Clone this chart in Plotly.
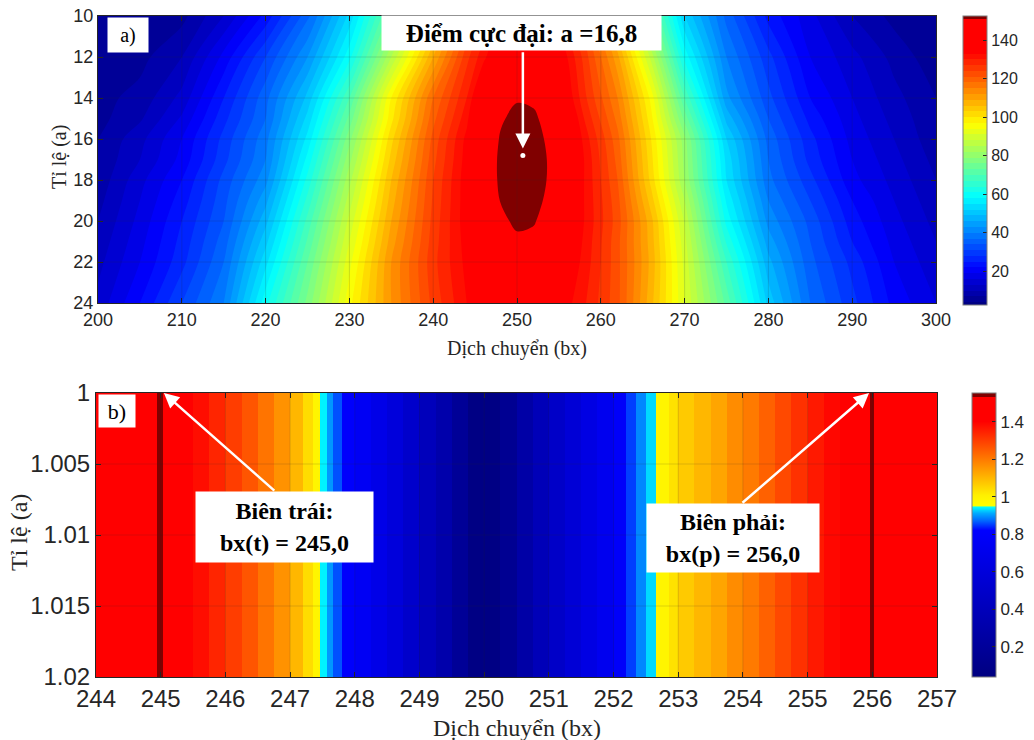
import plotly.graph_objects as go

# ---------------- panel a): magnitude over shift (bx) and scale (a) ----------------
bx_a = [200, 205, 210, 215, 220, 225, 230, 235, 240, 244, 246, 248, 250,
        252, 254, 256, 258, 262, 266, 270, 275, 280, 285, 290, 295, 300]
scale_a = [10, 12, 14, 15, 16, 17, 18, 19, 20, 21, 22, 24]

row_10 = [4, 4.5, 6, 13, 23, 36, 53, 75, 100, 120, 127, 134, 138.5,
          138, 134, 128, 122, 102, 76, 52, 36, 24, 17, 10, 6, 4]
row_12 = [5, 6, 10, 20, 31, 43, 60, 85, 109, 126, 132, 138, 143.5,
          143, 138.5, 133, 126, 110, 87, 60, 40, 29, 19, 14, 9, 5]
row_14 = [6, 8, 14, 25, 36, 50, 70, 97, 118, 130, 139.5, 147, 150.3,
          149.5, 144.5, 135.5, 128, 115, 96, 70, 44, 32, 22, 16, 11, 7]
row_15 = [6, 9.5, 16.5, 27, 37, 53, 74, 99, 120, 132, 142.4, 150, 153.2,
          152.4, 147.4, 138.4, 130, 117, 98, 75, 48, 34, 24, 17, 12, 7.5]
row_16 = [7, 12, 19, 29, 39, 56, 78, 102, 122, 134, 144, 151.6, 154.9,
          154.1, 149, 140, 132, 119, 100, 80, 52, 36, 26, 18, 13, 8]
row_17 = [7.5, 13, 20, 30, 40, 59, 81, 104, 123, 134.5, 145, 152.4, 155.7,
          154.9, 149.9, 141, 133, 120, 101, 81, 54, 37, 27, 19, 14, 9]
row_18 = [8, 15, 22, 32, 42, 62, 84, 106, 124, 135, 145, 152.3, 155.6,
          154.8, 149.8, 141, 133, 121, 102, 82, 55, 38, 29, 20, 15, 10]
row_19 = [9, 16, 23.5, 33, 45, 65, 86.5, 107.5, 124.5, 135, 144, 151.2, 154.5,
          153.7, 148.7, 140, 133, 122, 104.5, 85, 57.5, 40, 31, 22, 16, 11]
row_20 = [10, 17, 25, 34, 48, 68, 89, 109, 125, 135, 142.5, 149.2, 152.5,
          151.7, 146.7, 139, 133, 122.5, 107, 87.5, 60, 42, 33, 23.5, 17, 12]
row_21 = [11, 18, 26, 35.5, 51, 70.5, 91, 110.5, 125.5, 134.5, 140, 146.2, 149.5,
          148.7, 143.7, 137, 132.5, 122, 107.5, 89, 63.5, 44.5, 34, 25, 18, 13]
row_22 = [12, 19, 27, 37, 54, 73, 93, 112, 126, 134, 138, 142, 145.5,
          144.5, 141, 136, 132, 122, 108, 90, 67, 47, 35, 27, 19, 14]
row_24 = [14, 22, 31, 40, 60, 77, 96, 112, 125, 133, 136, 139, 141.5,
          141, 138, 134, 130.5, 122, 107, 91, 72, 51, 37, 29, 21, 16]

peak_bx = 250.7
peak_a = 16.8

# ---------------- panel b): ratio over shift (bx) ----------------
bx_edges_b = [244.0, 244.5, 244.95, 245.04, 245.5, 245.75, 246.0, 246.25, 246.5, 246.75,
              247.0, 247.2, 247.35, 247.47, 247.57, 247.67, 247.8, 248.0, 248.25, 248.5,
              248.75, 249.0, 249.25, 249.5, 249.75, 250.25, 250.5, 250.75, 251.0, 251.25,
              251.5, 251.75, 252.0, 252.2, 252.35, 252.5, 252.65, 252.85, 253.0, 253.25,
              253.5, 253.75, 254.0, 254.25, 254.5, 254.75, 255.0, 255.25, 255.5, 255.97,
              256.03, 257.0]
ratio_b = [1.43, 1.46, 1.54, 1.44, 1.38, 1.34, 1.30, 1.26, 1.21, 1.16,
           1.10, 1.04, 0.99, 0.94, 0.90, 0.86, 0.80, 0.75, 0.68, 0.60,
           0.50, 0.40, 0.30, 0.18, 0.06, 0.15, 0.27, 0.38, 0.48, 0.57,
           0.65, 0.72, 0.79, 0.85, 0.89, 0.93, 0.99, 1.03, 1.07, 1.10,
           1.13, 1.17, 1.20, 1.24, 1.28, 1.32, 1.36, 1.39, 1.43, 1.55,
           1.45]
scale_edges_b = [1.0, 1.02]
left_edge_bx = 245.0
right_edge_bx = 256.0

INK = "#262626"
SANS = "Liberation Sans, Arial, sans-serif"
SERIF = "Liberation Serif, Times New Roman, serif"
W, H = 1034, 740

# jet-like map; only the top band turns dark red
jet_a = [[0.0, "rgb(0,0,131)"], [0.125, "rgb(0,0,255)"], [0.375, "rgb(0,255,255)"],
         [0.625, "rgb(255,255,0)"], [0.875, "rgb(255,0,0)"], [0.99, "rgb(255,0,0)"],
         [0.99, "rgb(128,0,0)"], [1.0, "rgb(128,0,0)"]]

# map squeezed around 1 for the ratio panel
jet_b = [[0.0, "rgb(0,0,128)"], [0.516, "rgb(0,0,255)"], [0.549, "rgb(0,100,255)"],
         [0.576, "rgb(0,170,255)"], [0.599, "rgb(0,255,255)"], [0.602, "rgb(255,255,0)"],
         [0.64, "rgb(255,240,0)"], [0.76, "rgb(255,128,0)"], [0.90, "rgb(255,0,0)"],
         [0.985, "rgb(255,0,0)"], [0.985, "rgb(128,0,0)"], [1.0, "rgb(128,0,0)"]]

fig = go.Figure()

fig.add_trace(go.Contour(
    x=bx_a, y=scale_a,
    z=[row_10, row_12, row_14, row_15, row_16, row_17, row_18, row_19,
       row_20, row_21, row_22, row_24],
    colorscale=jet_a, zmin=3.5, zmax=152.4,
    contours=dict(start=4, end=151, size=3, coloring="fill", showlines=False),
    line=dict(width=0, smoothing=1),
    xaxis="x", yaxis="y",
    colorbar=dict(x=963 / W, xanchor="left", xpad=0, y=1 - 160.5 / H, yanchor="middle",
                  ypad=0, len=289 / H, lenmode="fraction", thickness=24,
                  outlinecolor="#7f7f7f", outlinewidth=1,
                  tickvals=[20, 40, 60, 80, 100, 120, 140], ticks="inside", ticklen=4,
                  tickcolor=INK, tickfont=dict(family=SANS, size=16, color=INK)),
    hoverinfo="skip",
))

fig.add_trace(go.Scatter(
    x=[peak_bx], y=[peak_a], mode="markers",
    marker=dict(color="white", size=5), xaxis="x", yaxis="y",
    showlegend=False, hoverinfo="skip",
))

fig.add_trace(go.Heatmap(
    x=bx_edges_b, y=scale_edges_b, z=[ratio_b],
    colorscale=jet_b, zmin=0.038, zmax=1.553,
    xaxis="x2", yaxis="y2",
    colorbar=dict(x=972 / W, xanchor="left", xpad=0, y=1 - 535 / H, yanchor="middle",
                  ypad=0, len=284 / H, lenmode="fraction", thickness=24,
                  outlinecolor="#7f7f7f", outlinewidth=1,
                  tickvals=[0.2, 0.4, 0.6, 0.8, 1, 1.2, 1.4], ticks="inside", ticklen=4,
                  tickcolor=INK, tickfont=dict(family=SANS, size=17, color=INK)),
    hoverinfo="skip",
))

axis_common = dict(showline=True, linecolor=INK, linewidth=1, mirror="ticks",
                   ticks="inside", ticklen=5, tickcolor=INK, showgrid=False,
                   zeroline=False, layer="above traces", automargin=False)

fig.update_layout(
    width=W, height=H,
    margin=dict(l=0, r=0, t=0, b=0, autoexpand=False),
    paper_bgcolor="white", plot_bgcolor="white",
    showlegend=False,
    xaxis=dict(domain=[98 / W, 936 / W], range=[200, 300], dtick=10,
               tickfont=dict(family=SANS, size=18, color=INK),
               anchor="y", **axis_common),
    yaxis=dict(domain=[1 - 303 / H, 1 - 16 / H], range=[24, 10], dtick=2,
               tickfont=dict(family=SANS, size=18, color=INK),
               anchor="x", **axis_common),
    xaxis2=dict(domain=[96 / W, 937 / W], range=[244, 257], dtick=1,
                tickfont=dict(family=SANS, size=24, color=INK),
                anchor="y2", **axis_common),
    yaxis2=dict(domain=[1 - 677 / H, 1 - 393 / H], range=[1.02, 1.0],
                tickvals=[1, 1.005, 1.01, 1.015, 1.02],
                tickfont=dict(family=SANS, size=24, color=INK),
                anchor="x2", **axis_common),
)

# faint grid drawn above the colour fields
grid = "rgba(38,38,38,0.16)"
shapes = []
for gx in range(210, 300, 10):
    shapes.append(dict(type="line", xref="x", yref="y", x0=gx, x1=gx, y0=10, y1=24,
                       line=dict(color=grid, width=1), layer="above"))
for gy in range(12, 24, 2):
    shapes.append(dict(type="line", xref="x", yref="y", x0=200, x1=300, y0=gy, y1=gy,
                       line=dict(color=grid, width=1), layer="above"))
for gx in range(245, 257):
    shapes.append(dict(type="line", xref="x2", yref="y2", x0=gx, x1=gx, y0=1.0, y1=1.02,
                       line=dict(color=grid, width=1), layer="above"))
for gy in [1.005, 1.01, 1.015]:
    shapes.append(dict(type="line", xref="x2", yref="y2", x0=244, x1=257, y0=gy, y1=gy,
                       line=dict(color=grid, width=1), layer="above"))
fig.update_layout(shapes=shapes)


def label_box(text, cx, cy, w, h, size, bold=True):
    body = "<br>".join(f"<b>{t}</b>" if bold else t for t in text.split("\n"))
    return dict(text=body, xref="paper", yref="paper", x=cx / W, y=1 - cy / H,
                xanchor="center", yanchor="middle", showarrow=False,
                bgcolor="white", borderpad=0, width=w, height=h, align="center",
                font=dict(family=SERIF, size=size, color="black"))


def title_text(text, cx, cy, size, angle=0):
    return dict(text=text, xref="paper", yref="paper", x=cx / W, y=1 - cy / H,
                xanchor="center", yanchor="middle", showarrow=False, textangle=angle,
                font=dict(family=SERIF, size=size, color=INK))


anns = [
    # axis titles
    title_text("Dịch chuyển (bx)", 517, 348.5, 20),
    title_text("Tỉ lệ (a)", 60, 157, 20, -90),
    title_text("Dịch chuyển (bx)", 516.5, 728, 24),
    title_text("Tỉ lệ (a)", 19, 533, 24, -90),
    # panel tags
    label_box("a)", 128, 35, 40, 34, 20, bold=False),
    label_box("b)", 117, 411, 36, 32, 22, bold=False),
    # maximum label and arrow
    label_box("Điểm cực đại: a =16,8", 521.5, 33, 279, 34, 25),
    dict(text="", x=peak_bx, y=peak_a, xref="x", yref="y",
         ax=peak_bx, ay=11.7, axref="x", ayref="y",
         showarrow=True, arrowhead=2, arrowsize=1.2, arrowwidth=2.5,
         arrowcolor="white", standoff=7),
    # boundary labels and arrows
    label_box("Biên trái:\nbx(t) = 245,0", 284.5, 527, 177, 70, 24),
    dict(text="", x=left_edge_bx + 0.05, y=1.0, xref="x2", yref="y2",
         ax=246.78, ay=1.00697, axref="x2", ayref="y2",
         showarrow=True, arrowhead=2, arrowsize=1.2, arrowwidth=2.5,
         arrowcolor="white"),
    label_box("Biên phải:\nbx(p) = 256,0", 733, 538, 172, 68, 24),
    dict(text="", x=right_edge_bx - 0.05, y=1.0, xref="x2", yref="y2",
         ax=253.97, ay=1.00782, axref="x2", ayref="y2",
         showarrow=True, arrowhead=2, arrowsize=1.2, arrowwidth=2.5,
         arrowcolor="white"),
]
fig.update_layout(annotations=anns)

fig.write_html("out.html")
